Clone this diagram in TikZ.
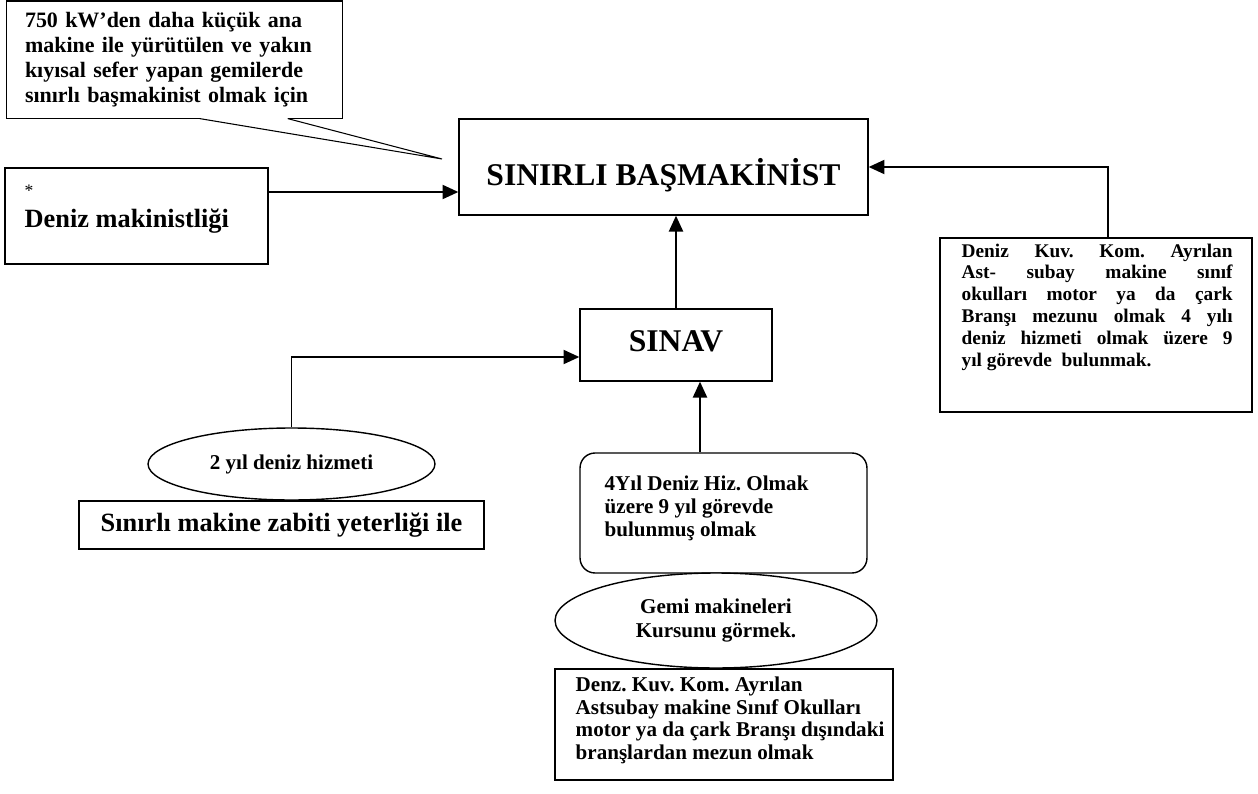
\documentclass[tikz,border=0pt]{standalone}
\usepackage{fontspec}
\setmainfont{Liberation Serif}
\usetikzlibrary{arrows.meta,shapes.geometric,calc}
\newcommand{\bsize}[2]{\fontsize{#1}{#2}\selectfont\bfseries}
\frenchspacing
\tikzset{
  box/.style={draw,line width=0.8pt,inner sep=0pt},
  oval/.style={draw,ellipse,fill=white,line width=0.8pt,inner sep=0pt,align=center},
  txt/.style={inner sep=0pt,anchor=north west,align=left},
  arr/.style={-{Triangle[length=9pt,width=8pt]},line width=1.1pt},
}
\begin{document}
\begin{tikzpicture}[x=0.02cm,y=-0.02cm]
\useasboundingbox (0,0) rectangle (1258,794);
% callout top left
\node[inner sep=0pt,minimum width=6.7cm,minimum height=2.34cm,text width=5.98cm,align=left,font=\bsize{12.5}{14.2}] (call) at (174.5,59.75)
  {750 kW’den daha küçük ana\\makine ile yürütülen ve yakın\\kıyısal sefer yapan gemilerde\\sınırlı başmakinist olmak için};
\coordinate (tip) at (442,159);
\draw[line width=0.8pt] ($(call.south west)+(193,0)$) coordinate (ta) -- (call.south west) -- (call.north west)
  -- (call.north east) -- (call.south east) -- ($(call.south west)+(281,0)$) coordinate (tb);
\draw[line width=0.6pt] (ta) -- (tip) -- (tb);
% left box
\node[box,minimum width=5.26cm,minimum height=1.92cm] (deniz) at (136.5,216) {};
\node[inner sep=0pt,anchor=base west,font=\fontsize{10}{12}\selectfont] (star) at ($(deniz.north west)+(20,29)$) {*};
\node[inner sep=0pt,anchor=base west,font=\bsize{15}{18}] (denizT) at ($(deniz.north west)+(20,60)$) {Deniz makinistliği};
% main boxes
\node[box,minimum width=8.18cm,minimum height=1.92cm,text height=25pt,text depth=4pt,font=\bsize{18}{22}] (main) at (663.5,167) {SINIRLI BAŞMAKİNİST};
\node[box,minimum width=3.84cm,minimum height=1.44cm,text depth=5pt,font=\bsize{18}{22}] (sinav) at (676,345) {SINAV};
% right box
\node[box,minimum width=6.24cm,minimum height=3.48cm] (kuv) at (1096,325) {};
\node[txt,text width=5.42cm,align=justify,font=\bsize{11}{12.4}] (kuvT) at ($(kuv.north west)+(22,6)$)
  {\tolerance=10000\hyphenpenalty=10000 Deniz Kuv. Kom. Ayrılan\linebreak Ast- subay makine sınıf\linebreak okulları motor ya da çark\linebreak
   Branşı mezunu olmak 4 yılı\linebreak deniz hizmeti olmak üzere 9\linebreak yıl görevde\ \ bulunmak.};
% left chain
\node[box,minimum width=8.1cm,minimum height=0.96cm,font=\bsize{15}{18}] (zabit) at (281.5,525) {Sınırlı makine zabiti yeterliği ile};
\node[oval,minimum width=5.74cm,minimum height=1.44cm,font=\bsize{12}{14}] (yil) at (291.5,464) {2 yıl deniz hizmeti};
% lower chain
\node[box,rounded corners=0.3cm,minimum width=5.74cm,minimum height=2.4cm] (hiz) at (723.5,513) {};
\node[txt,font=\bsize{12}{13.2}] (hizT) at ($(hiz.north west)+(25,23)$) {4Yıl Deniz Hiz. Olmak\\üzere 9 yıl görevde\\bulunmuş olmak};
\node[box,minimum width=6.76cm,minimum height=2.22cm] (ayr) at (724,724.5) {};
\node[txt,font=\bsize{12}{13}] (ayrT) at ($(ayr.north west)+(21,8)$)
  {Denz. Kuv. Kom. Ayrılan\\Astsubay makine Sınıf Okulları\\motor ya da çark Branşı dışındaki\\branşlardan mezun olmak};
\node[oval,minimum width=6.44cm,minimum height=1.9cm,font=\bsize{12}{13.2}] (gemi) at (716,620.5) {Gemi makineleri\\Kursunu görmek.};
% connectors
\draw[arr] ($(deniz.east)+(0,-24)$) coordinate (d1) -- (d1 -| main.west);
\draw[arr] ($(kuv.north)+(12,0)$) |- (main.east);
\draw[arr] (sinav.north) -- (sinav.north |- main.south);
\coordinate (s1) at ($(sinav.south)+(24,0)$);
\draw[arr] (s1 |- hiz.north) -- (s1);
\draw[arr] (yil.north) |- ($(sinav.west)+(0,12)$);
\end{tikzpicture}
\end{document}
